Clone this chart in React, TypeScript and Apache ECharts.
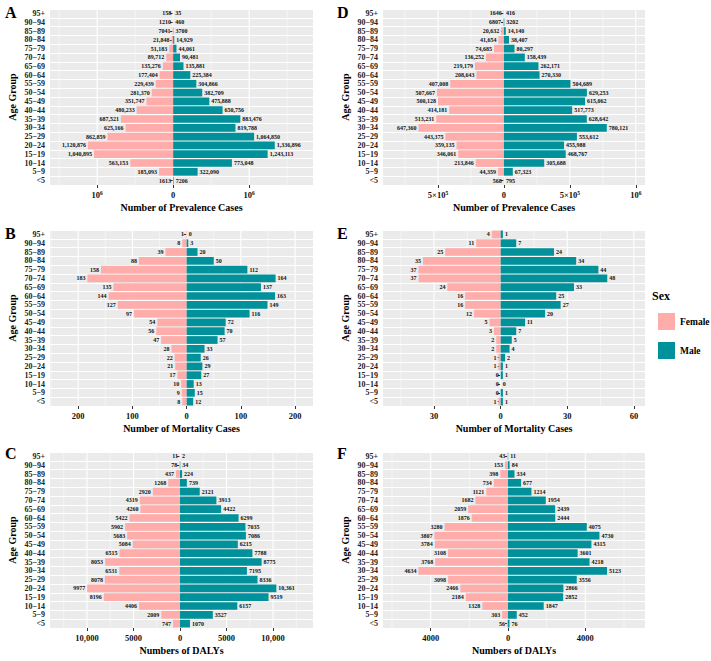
import { useEffect, useRef } from 'react';
import * as echarts from 'echarts';

// Age groups, bottom (youngest) to top (oldest)
const ageGroups = ['<5', '5−9', '10−14', '15−19', '20−24', '25−29', '30−34', '35−39', '40−44', '45−49',
  '50−54', '55−59', '60−64', '65−69', '70−74', '75−79', '80−84', '85−89', '90−94', '95+'];

// A: prevalence cases
const prevFemaleA = [1613, 185093, 563153, 1040895, 1120876, 862859, 625166, 687521, 480233, 351747,
  281370, 229439, 177404, 135276, 89712, 51183, 21848, 7041, 1210, 158];
const prevMaleA = [7206, 322090, 773048, 1243113, 1336896, 1064850, 819788, 883476, 650756, 475888,
  382709, 304866, 225384, 135881, 90481, 44061, 14929, 3700, 460, 35];

// B: mortality cases
const deathFemaleB = [8, 9, 10, 17, 21, 22, 28, 47, 56, 54, 97, 127, 144, 135, 183, 158, 88, 39, 8, 1];
const deathMaleB = [12, 15, 13, 27, 29, 26, 33, 57, 70, 72, 116, 149, 163, 137, 164, 112, 50, 20, 3, 0];

// C: DALYs
const dalyFemaleC = [747, 2009, 4406, 8196, 9977, 8078, 6531, 8053, 6515, 5084, 5683, 5902, 5422, 4260,
  4319, 2920, 1268, 437, 78, 11];
const dalyMaleC = [1070, 3527, 6157, 9519, 10361, 8336, 7195, 8775, 7788, 6215, 7086, 7035, 6299, 4422,
  3913, 2121, 739, 224, 34, 2];

// D: prevalence cases
const prevFemaleD = [568, 44359, 213846, 346061, 359135, 443375, 647360, 513231, 414181, 500128,
  507667, 407008, 208643, 219179, 136252, 74685, 41654, 20632, 6807, 1646];
const prevMaleD = [795, 67323, 305688, 468767, 455988, 553612, 780121, 628642, 517773, 615062,
  629253, 504689, 270330, 262171, 158439, 80297, 38407, 14140, 3202, 416];

// E: mortality cases
const deathFemaleE = [1, 0, 0, 0, 1, 1, 2, 2, 3, 5, 12, 16, 16, 24, 37, 37, 35, 25, 11, 4];
const deathMaleE = [1, 1, 0, 1, 1, 2, 4, 5, 7, 11, 20, 27, 25, 33, 48, 44, 34, 24, 7, 1];

// F: DALYs
const dalyFemaleF = [56, 303, 1328, 2184, 2466, 3098, 4634, 3768, 3108, 3784, 3807, 3280, 1876, 2059,
  1682, 1121, 734, 398, 153, 43];
const dalyMaleF = [76, 452, 1847, 2852, 2866, 3556, 5123, 4218, 3601, 4315, 4730, 4075, 2444, 2439,
  1954, 1214, 677, 334, 84, 11];

// Axis breaks (major) and minor grid positions per panel
const breaksA = [-1e6, 0, 1e6];
const minorA = [-1.5e6, -5e5, 5e5, 1.5e6];
const breaksB = [-200, -100, 0, 100, 200];
const minorB = [-250, -150, -50, 50, 150];
const breaksC = [-10000, -5000, 0, 5000, 10000];
const minorC = [-12500, -7500, -2500, 2500, 7500, 12500];
const breaksD = [-5e5, 0, 5e5, 1e6];
const minorD = [-7.5e5, -2.5e5, 2.5e5, 7.5e5];
const breaksE = [-30, 0, 30, 60];
const minorE = [-45, -15, 15, 45];
const breaksF = [-4000, 0, 4000];
const minorF = [-6000, -2000, 2000, 6000];

const FONT = 'Liberation Serif, Times New Roman, serif';
const FEMALE = '#FFADAB';
const MALE = '#00919A';

const fmt = (v: number) => {
  const a = Math.abs(v);
  return a >= 10000 ? a.toLocaleString('en-US') : String(a);
};

const powTen = (v: number) => {
  const a = Math.abs(v);
  if (a === 0) return '{b|0}';
  if (a === 1e6) return '{b|10}{s|6}';
  return '{b|5×10}{s|5}';
};

type Panel = {
  letter: string;
  female: number[];
  male: number[];
  breaks: number[];
  minor: number[];
  min: number;
  max: number;
  title: string;
  tick: (v: number) => string;
  col: number;
  row: number;
};

const panels: Panel[] = [
  { letter: 'A', female: prevFemaleA, male: prevMaleA, breaks: breaksA, minor: minorA, min: -1.62e6, max: 1.84e6,
    title: 'Number of Prevalence Cases', tick: powTen, col: 0, row: 0 },
  { letter: 'B', female: deathFemaleB, male: deathMaleB, breaks: breaksB, minor: minorB, min: -252, max: 233,
    title: 'Number of Mortality Cases', tick: fmt, col: 0, row: 1 },
  { letter: 'C', female: dalyFemaleC, male: dalyMaleC, breaks: breaksC, minor: minorC, min: -13980, max: 14300,
    title: 'Numbers of DALYs', tick: fmt, col: 0, row: 2 },
  { letter: 'D', female: prevFemaleD, male: prevMaleD, breaks: breaksD, minor: minorD, min: -0.917e6, max: 1.07e6,
    title: 'Number of Prevalence Cases', tick: powTen, col: 1, row: 0 },
  { letter: 'E', female: deathFemaleE, male: deathMaleE, breaks: breaksE, minor: minorE, min: -53, max: 65,
    title: 'Number of Mortality Cases', tick: fmt, col: 1, row: 1 },
  { letter: 'F', female: dalyFemaleF, male: dalyMaleF, breaks: breaksF, minor: minorF, min: -6467, max: 7087,
    title: 'Numbers of DALYs', tick: fmt, col: 1, row: 2 },
];

const colLeft = [50, 383];
const colWidth = [263, 262];
const rowTop = [9, 230, 452];
const panelHeight = 176;
const letterX = [5, 337];
const letterY = [4, 225, 445];

export default function App() {
  const ref = useRef<HTMLDivElement>(null);

  useEffect(() => {
    if (!ref.current) return;
    const chart = echarts.init(ref.current, undefined, { renderer: 'svg' });

    const grids: any[] = [];
    const xAxes: any[] = [];
    const yAxes: any[] = [];
    const series: any[] = [];
    const graphics: any[] = [];

    const textBold = { fontFamily: FONT, fontWeight: 'bold' as const, color: '#000' };

    panels.forEach((p, i) => {
      grids.push({
        left: colLeft[p.col], top: rowTop[p.row], width: colWidth[p.col], height: panelHeight,
        show: true, backgroundColor: '#EBEBEB', borderWidth: 0, containLabel: false,
      });
      xAxes.push({
        type: 'value', gridIndex: i, min: p.min, max: p.max,
        name: p.title, nameLocation: 'middle', nameGap: 17,
        nameTextStyle: { ...textBold, fontSize: 10 },
        axisLine: { show: false, onZero: false },
        axisTick: { show: true, length: 3, customValues: p.breaks, lineStyle: { color: '#333', width: 1 } },
        axisLabel: {
          customValues: p.breaks, formatter: (v: number) => p.tick(v), margin: 5,
          ...textBold, color: '#111', fontSize: 8.5,
          rich: {
            b: { ...textBold, color: '#111', fontSize: 8.5 },
            s: { ...textBold, color: '#111', fontSize: 5.5, verticalAlign: 'top' },
          },
        },
        splitLine: { show: false },
      });
      yAxes.push({
        type: 'category', gridIndex: i, data: ageGroups,
        name: 'Age Group', nameLocation: 'middle', nameRotate: 90, nameGap: 33,
        nameTextStyle: { ...textBold, fontSize: 10 },
        axisLine: { show: false },
        axisTick: { show: true, alignWithLabel: true, interval: 0, length: 3, lineStyle: { color: '#333' } },
        axisLabel: { interval: 0, margin: 5, ...textBold, color: '#222', fontSize: 8 },
        splitLine: { show: true, interval: 0, lineStyle: { color: '#FFFFFF', width: 1 } },
      });
      // vertical grid lines placed through the value scale
      series.push({
        type: 'custom', xAxisIndex: i, yAxisIndex: i, silent: true, z: 1,
        encode: { x: 0, y: 1 },
        data: [...p.breaks.map((v) => [v, 0, 1]), ...p.minor.map((v) => [v, 0, 0])],
        renderItem: (params: any, api: any) => {
          const x = api.coord([api.value(0), 0])[0];
          const cs = params.coordSys;
          return {
            type: 'line',
            shape: { x1: x, y1: cs.y, x2: x, y2: cs.y + cs.height },
            style: { stroke: '#FFFFFF', lineWidth: api.value(2) ? 1.1 : 0.5 },
          };
        },
      });
      const labelBase = { show: true, distance: 2, fontSize: 6, ...textBold, color: '#111' };
      series.push({
        name: 'Female', type: 'bar', xAxisIndex: i, yAxisIndex: i, z: 2,
        data: p.female.map((v) => -v), barWidth: '88%', barGap: '-100%',
        itemStyle: { color: FEMALE },
        label: { ...labelBase, position: 'left', formatter: (d: any) => fmt(d.value) },
      });
      series.push({
        name: 'Male', type: 'bar', xAxisIndex: i, yAxisIndex: i, z: 2,
        data: p.male, barWidth: '88%', barGap: '-100%',
        itemStyle: { color: MALE },
        label: { ...labelBase, position: 'right', formatter: (d: any) => fmt(d.value) },
      });
      graphics.push({
        type: 'text', left: letterX[p.col], top: letterY[p.row],
        style: { text: p.letter, font: `bold 16px ${FONT}`, fill: '#000' },
      });
    });

    graphics.push({
      type: 'text', left: 652, top: 290,
      style: { text: 'Sex', font: `bold 12px ${FONT}`, fill: '#000' },
    });

    chart.setOption({
      animation: false,
      backgroundColor: '#FFFFFF',
      grid: grids,
      xAxis: xAxes,
      yAxis: yAxes,
      series,
      graphic: graphics,
      legend: {
        data: ['Female', 'Male'], orient: 'vertical', left: 653, top: 308,
        itemWidth: 17, itemHeight: 17, itemGap: 12, icon: 'rect', selectedMode: false,
        textStyle: { ...textBold, fontSize: 9.5 },
      },
    });

    return () => chart.dispose();
  }, []);

  return (
    <div
      ref={ref}
      style={{ position: 'absolute', left: 0, top: 0, width: 711, height: 661, background: '#fff' }}
    />
  );
}
